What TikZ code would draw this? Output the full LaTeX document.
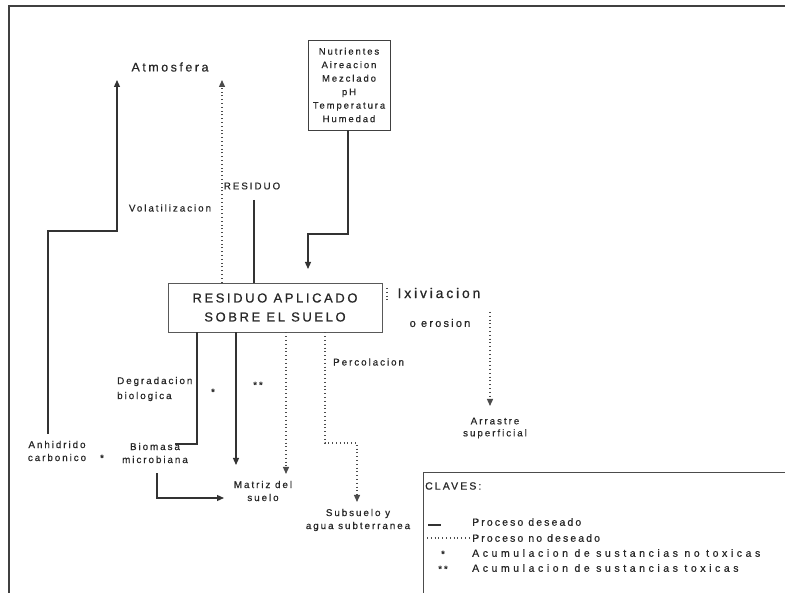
\documentclass[tikz,border=0pt]{standalone}
\usepackage{fontspec}
\setmainfont{Liberation Sans}[LetterSpace=20, FakeBold=0.6]
\usetikzlibrary{arrows.meta}
\begin{document}
\begin{tikzpicture}[x=1pt,y=-1pt,
  lbl/.style={inner sep=0pt, font=\fontsize{9.8}{13}\selectfont, text=black!85, align=center},
  des/.style={draw=black!80, line width=1.2pt},
  undes/.style={draw=black!70, line width=1.3pt, dash pattern=on 1pt off 2.8pt},
  tip/.style={-{Triangle[length=7pt,width=6pt]}},
  keytext/.style={lbl, anchor=west, font=\fontsize{10.5}{12}\selectfont},
]
\useasboundingbox (0,0) rectangle (785,593);
% frame
\draw[black!75, line width=1.3pt] (785,6) -- (9,6) -- (9,593);

% nodes
\node[lbl, font=\fontsize{12.5}{15}\selectfont] (atm) at (170,67) {Atmosfera};
\node[lbl, draw=black!75, line width=0.9pt, minimum width=82pt, minimum height=90pt,
      inner sep=2pt, font=\fontsize{9.5}{13.5}\selectfont] (nut) at (349,85)
      {Nutrientes\\Aireacion\\Mezclado\\pH\\Temperatura\\Humedad};
\node[lbl, draw=black!65, line width=0.9pt, minimum width=214pt, minimum height=49pt,
      font=\fontsize{13}{19}\selectfont] (res) at (275,307.5) {RESIDUO APLICADO\\SOBRE EL SUELO};
\node[lbl] (vol) at (170,208) {Volatilizacion};
\node[lbl] (resl) at (252,186) {RESIDUO};
\node[lbl, font=\fontsize{14}{16}\selectfont] (lix) at (439,293) {Ixiviacion};
\node[lbl, font=\fontsize{11}{13}\selectfont] (ero) at (440,323) {o erosion};
\node[lbl, font=\fontsize{9.8}{12}\selectfont] (arr) at (495,428) {Arrastre\\superficial};
\node[lbl, align=left, anchor=west, font=\fontsize{9.8}{15}\selectfont] (deg) at (117,389) {Degradacion\\biologica};
\node[lbl] (bio) at (155,453) {Biomasa\\microbiana};
\node[lbl] (anh) at (57,451) {Anhidrido\\carbonico};
\node[lbl] (st1) at (102,458) {*};
\node[lbl] (st2) at (213,392) {*};
\node[lbl] (st3) at (258,385) {**};
\node[lbl] (mat) at (263,491) {Matriz del\\suelo};
\node[lbl] (sub) at (358,520) {Subsuelo y\\agua subterranea};
\node[lbl, anchor=west] (per) at (333,362) {Percolacion};

% coordinates
\coordinate (atmA) at (117,80);
\coordinate (atmB) at (222,80);
\coordinate (j1) at (117,231);
\coordinate (n1) at (308,234);
\coordinate (n2) at (308,269);
\coordinate (lx) at (490,312);
\coordinate (lxt) at (490,406);
\coordinate (b1) at (197,444);
\coordinate (b1e) at (175,444);
\coordinate (m1) at (236,465);
\coordinate (m2) at (286,474);
\coordinate (p1) at (325,443);
\coordinate (p2) at (357,502);
\coordinate (bm) at (224,498);
\coordinate (r1) at (254,200);

% connectors
\draw[des,tip] ([xshift=-9pt,yshift=7pt]anh.north) |- (j1) -- (atmA);
\draw[undes,tip] (res.north -| atmB) -- (atmB);
\draw[des] (r1) -- (r1 |- res.north);
\draw[des,tip] ([xshift=-1pt]nut.south) |- (n1) -- (n2);
\draw[undes] (387,288) -- (387,301);
\draw[undes,tip] (lx) -- (lxt);
\draw[des] (res.south -| b1) |- (b1e);
\draw[des,tip] (res.south -| m1) -- (m1);
\draw[undes,tip] (res.south -| m2) -- (m2);
\draw[undes,tip] (res.south -| p1) -- (p1) -| (p2);
\draw[des,tip] ([xshift=2pt,yshift=-10pt]bio.south) |- (bm);

% legend
\draw[black!70, line width=1pt] (785,473) -- (423,473) -- (423,593);
\node[keytext] (clv) at (425,486) {CLAVES:};
\draw[des] (428,525) -- (441,525);
\node[keytext] (k1) at (472,522) {Proceso deseado};
\draw[undes] (427,538) -- (470,538);
\node[keytext] (k2) at (472,538) {Proceso no deseado};
\node[lbl] (k3s) at (443,554) {*};
\node[keytext, font=\fontsize{10.5}{12}\selectfont\addfontfeature{LetterSpace=34}] (k3) at (472,553) {Acumulacion de sustancias no toxicas};
\node[lbl] (k4s) at (443,569) {**};
\node[keytext, font=\fontsize{10.5}{12}\selectfont\addfontfeature{LetterSpace=34}] (k4) at (472,568) {Acumulacion de sustancias toxicas};
\end{tikzpicture}
\end{document}
